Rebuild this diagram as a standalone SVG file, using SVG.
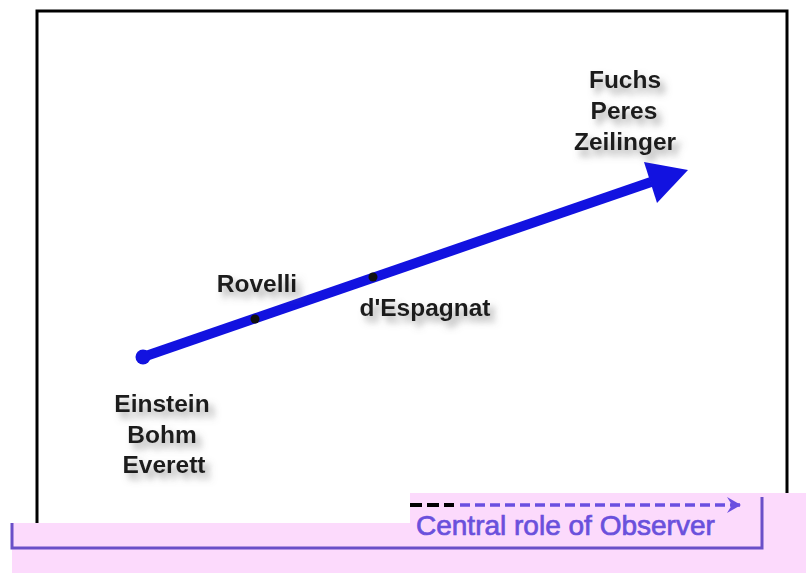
<svg xmlns="http://www.w3.org/2000/svg" width="806" height="573" viewBox="0 0 806 573">
<defs>
<filter id="sh" x="-20%" y="-40%" width="150%" height="200%">
<feGaussianBlur in="SourceAlpha" stdDeviation="3.5" result="b"/>
<feOffset in="b" dx="5" dy="6" result="o"/>
<feFlood flood-color="#6f6f6f" flood-opacity="0.6"/>
<feComposite in2="o" operator="in" result="s"/>
<feMerge><feMergeNode in="s"/><feMergeNode in="SourceGraphic"/></feMerge>
</filter>
<marker id="chev" markerWidth="16" markerHeight="16" refX="13" refY="8" orient="auto" markerUnits="userSpaceOnUse">
<path d="M0,0 L14,8 L0,16 L5,8 Z" fill="#6a4fe0"/>
</marker>
</defs>
<style>
.lbl{font-family:"Liberation Sans",Arial,sans-serif;font-weight:bold;font-size:24.5px;fill:#1c1c1c;text-anchor:middle;filter:url(#sh)}
.obs{font-family:"Liberation Sans",Arial,sans-serif;font-size:28px;fill:#6a50dc;stroke:#6a50dc;stroke-width:0.7}
</style>
<rect width="806" height="573" fill="#ffffff"/>
<g id="frame">
<path d="M37,524 V11 H787 V497" fill="none" stroke="#000" stroke-width="3"/>
</g>
<g id="legend">
<path d="M410,493 H806 V573 H12 V523 H410 Z" fill="#fcdafc"/>
<path d="M12,523 V548 H762 V497" fill="none" stroke="#6a4fc8" stroke-width="3"/>
<line x1="410" y1="505" x2="454" y2="505" stroke="#000" stroke-width="4" stroke-dasharray="12,5"/>
<line x1="460" y1="505" x2="740" y2="505" stroke="#6a4fe0" stroke-width="3.5" stroke-dasharray="10,5" marker-end="url(#chev)"/>
<text class="obs" x="416" y="535">Central role of Observer</text>
</g>
<g id="connectors">
<line x1="143" y1="357" x2="651" y2="182" stroke="#1212e0" stroke-width="10"/>
<polygon points="644,162 688,170 657,203" fill="#1212e0"/>
<circle cx="143" cy="357" r="7.5" fill="#1212e0"/>
</g>
<g id="node-einstein">
<text class="lbl" x="162" y="412">Einstein</text>
<text class="lbl" x="162" y="443">Bohm</text>
<text class="lbl" x="164" y="473">Everett</text>
</g>
<g id="node-rovelli">
<circle cx="255" cy="319" r="4.5" fill="#111"/>
<text class="lbl" x="257" y="292">Rovelli</text>
</g>
<g id="node-despagnat">
<circle cx="373" cy="277" r="4.5" fill="#111"/>
<text class="lbl" x="425" y="316">d'Espagnat</text>
</g>
<g id="node-fuchs">
<text class="lbl" x="625" y="88">Fuchs</text>
<text class="lbl" x="624" y="119">Peres</text>
<text class="lbl" x="625" y="150">Zeilinger</text>
</g>
</svg>
